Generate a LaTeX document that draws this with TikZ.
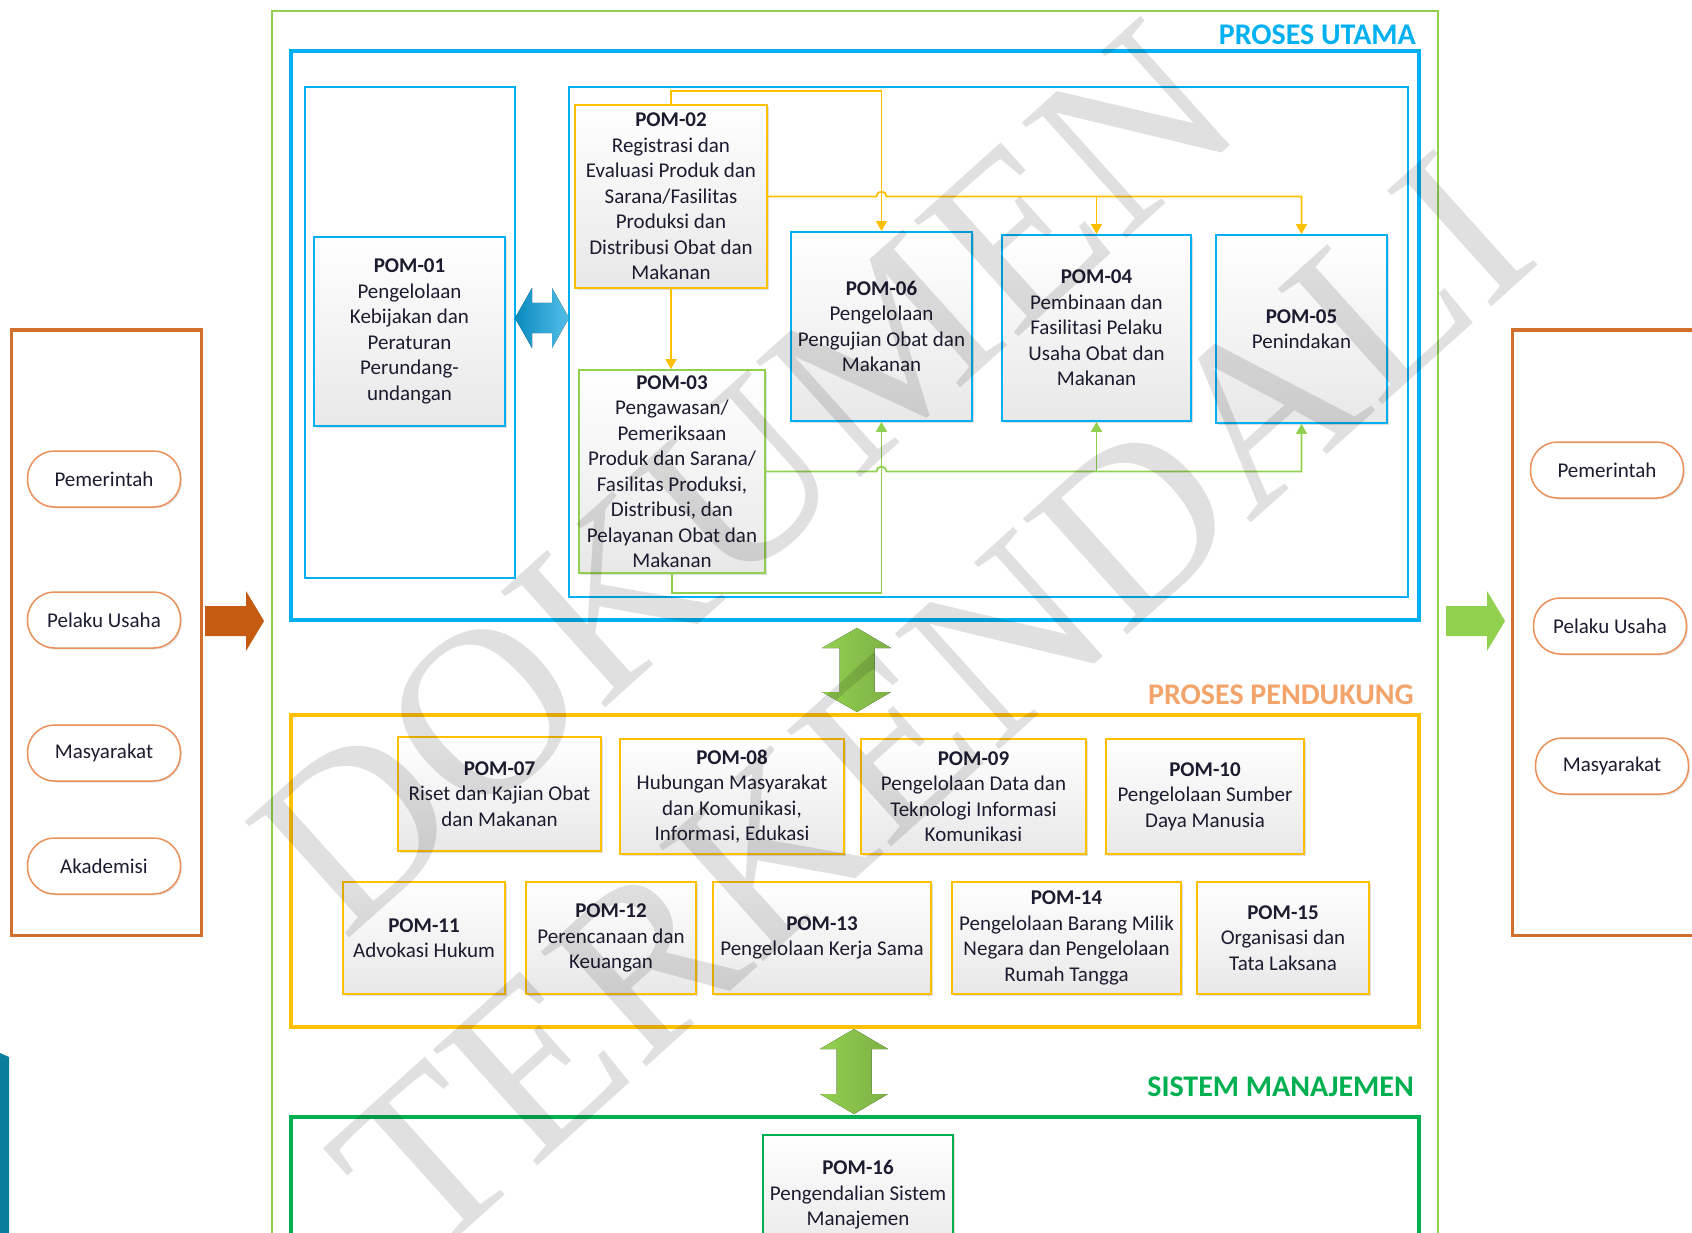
\documentclass[tikz,border=0pt]{standalone}
\usepackage{fontspec}
\setmainfont{Carlito}
\newfontfamily\wmfont{Liberation Serif}
\usetikzlibrary{arrows.meta,shadows}

\definecolor{pomblue}{HTML}{00B0F0}
\definecolor{pomgold}{HTML}{FFC000}
\definecolor{pomlime}{HTML}{92D050}
\definecolor{pomgreen}{HTML}{00B050}
\definecolor{pomorange}{HTML}{C55A11}
\definecolor{pomframe}{HTML}{D0702C}
\definecolor{pompeach}{HTML}{EA9058}
\definecolor{pomlabel}{HTML}{F2A46A}
\definecolor{pomtext}{HTML}{1C1C30}
\definecolor{pomteal}{HTML}{0A7D9A}
\definecolor{pomarrow}{HTML}{0BA3DF}

\begin{document}
\begin{tikzpicture}[x=1pt,y=-1pt]
            \tikzstyle{every node}+=[inner sep=0pt, text=pomtext]
            \tikzstyle{pom}=[draw, line width=1.8pt, top color=white, bottom color=black!9, align=center,
                font=\fontsize{21}{25.5}\selectfont,
                drop shadow={shadow xshift=2pt, shadow yshift=-2pt, opacity=0.25}]
            \tikzstyle{actor}=[draw=pompeach, line width=1.5pt, fill=white, rounded corners=27pt,
                minimum width=153pt, minimum height=56pt, font=\fontsize{21}{21}\selectfont,
                drop shadow={shadow xshift=1.5pt, shadow yshift=-1.5pt, opacity=0.2}]
            \tikzstyle{section}=[anchor=east, font=\bfseries\fontsize{30}{30}\selectfont]
            \tikzstyle{yline}=[draw=pomgold, line width=1.8pt, -{Triangle[width=11pt,length=10pt]}]
            \tikzstyle{gline}=[draw=pomlime, line width=1.8pt, -{Triangle[width=11pt,length=10pt]}]
            \tikzstyle{wmark}=[rotate=42, font=\wmfont\fontsize{238}{238}\selectfont, text=black, text opacity=0.12]
            \useasboundingbox (0,0) rectangle (1692,1233);
            % frames
            \draw [pomlime, line width=2.5pt] (272,11) rectangle (1438,1260);
            \draw [pomblue, line width=3.5pt] (291,51) rectangle (1419,620);
            \draw [pomgold, line width=3.5pt] (291,715) rectangle (1419,1027);
            \draw [pomgreen, line width=3.5pt] (291,1117) rectangle (1419,1260);
            \draw [pomblue, line width=1.8pt] (305,87) rectangle (515,578);
            \draw [pomblue, line width=1.8pt] (569,87) rectangle (1408,597);
            \draw [pomframe, line width=3pt] (11,330) rectangle (201,935);
            \draw [pomframe, line width=3pt] (1512,330) rectangle (1710,935);
            \fill [pomteal] (0,1053) -- (9,1057) -- (9,1240) -- (0,1240) -- cycle;
            % section titles
            \node [section, text=pomblue] (lblutama) at (1416,35) {PROSES UTAMA};
            \node [section, text=pomlabel] (lblpendukung) at (1414,695) {PROSES PENDUKUNG};
            \node [section, text=pomgreen] (lblsistem) at (1414,1087) {SISTEM MANAJEMEN};
            % proses utama
            \node [pom, draw=pomblue, minimum width=191pt, minimum height=189pt] (p01) at (409.5,331.5)
                {\textbf{POM-01}\\Pengelolaan\\Kebijakan dan\\Peraturan\\Perundang-\\undangan};
            \node [pom, draw=pomgold, minimum width=192pt, minimum height=183pt] (p02) at (671,196.5)
                {\textbf{POM-02}\\Registrasi dan\\Evaluasi Produk dan\\Sarana/Fasilitas\\Produksi dan\\Distribusi Obat dan\\Makanan};
            \node [pom, draw=pomlime, minimum width=186pt, minimum height=203pt] (p03) at (672,471.5)
                {\textbf{POM-03}\\Pengawasan/\\Pemeriksaan\\Produk dan Sarana/\\Fasilitas Produksi,\\Distribusi, dan\\Pelayanan Obat dan\\Makanan};
            \node [pom, draw=pomblue, minimum width=181pt, minimum height=189pt] (p06) at (881.5,326.5)
                {\textbf{POM-06}\\Pengelolaan\\Pengujian Obat dan\\Makanan};
            \node [pom, draw=pomblue, minimum width=189pt, minimum height=186pt] (p04) at (1096.5,328)
                {\textbf{POM-04}\\Pembinaan dan\\Fasilitasi Pelaku\\Usaha Obat dan\\Makanan};
            \node [pom, draw=pomblue, minimum width=171pt, minimum height=188pt] (p05) at (1301.5,329)
                {\textbf{POM-05}\\Penindakan};
            % flows
            \draw [yline] (p02.north) -- ++(0,-13) -| (p06.north);
            \draw [yline] (p02.south) -- (p02.south |- p03.north);
            \coordinate (yhop) at (p06.north |- p02.east);
            \draw [yline] (p02.east) -- ([xshift=-5pt]yhop) arc [start angle=180, end angle=360, radius=5] -| (p05.north);
            \draw [yline] (p04.north |- p02.east) -- (p04.north);
            \draw [gline] (p03.south) -- ++(0,19) -| (p06.south);
            \coordinate (ghop) at (p06.south |- p03.east);
            \draw [gline] (p03.east) -- ([xshift=-5pt]ghop) arc [start angle=180, end angle=360, radius=5] -| (p05.south);
            \draw [gline] (p04.south |- p03.east) -- (p04.south);
            % proses pendukung
            \node [pom, draw=pomgold, minimum width=203pt, minimum height=114pt] (p07) at (499.5,794)
                {\textbf{POM-07}\\Riset dan Kajian Obat\\dan Makanan};
            \node [pom, draw=pomgold, minimum width=224pt, minimum height=115pt] (p08) at (732,796.5)
                {\textbf{POM-08}\\Hubungan Masyarakat\\dan Komunikasi,\\Informasi, Edukasi};
            \node [pom, draw=pomgold, minimum width=225pt, minimum height=115pt] (p09) at (973.5,796.5)
                {\textbf{POM-09}\\Pengelolaan Data dan\\Teknologi Informasi\\Komunikasi};
            \node [pom, draw=pomgold, minimum width=198pt, minimum height=115pt] (p10) at (1205,796.5)
                {\textbf{POM-10}\\Pengelolaan Sumber\\Daya Manusia};
            \node [pom, draw=pomgold, minimum width=162pt, minimum height=112pt] (p11) at (424,938)
                {\textbf{POM-11}\\Advokasi Hukum};
            \node [pom, draw=pomgold, minimum width=170pt, minimum height=112pt] (p12) at (611,938)
                {\textbf{POM-12}\\Perencanaan dan\\Keuangan};
            \node [pom, draw=pomgold, minimum width=218pt, minimum height=112pt] (p13) at (822,938)
                {\textbf{POM-13}\\Pengelolaan Kerja Sama};
            \node [pom, draw=pomgold, minimum width=229pt, minimum height=112pt] (p14) at (1066.5,938)
                {\textbf{POM-14}\\Pengelolaan Barang Milik\\Negara dan Pengelolaan\\Rumah Tangga};
            \node [pom, draw=pomgold, minimum width=172pt, minimum height=112pt] (p15) at (1283,938)
                {\textbf{POM-15}\\Organisasi dan\\Tata Laksana};
            % sistem manajemen
            \node [pom, draw=pomgreen, minimum width=190pt, minimum height=120pt] (p16) at (858,1195)
                {\textbf{POM-16}\\Pengendalian Sistem\\Manajemen};
            % stakeholders
            \node [actor] (inpem) at (104,479) {Pemerintah};
            \node [actor] (inpel) at (104,620) {Pelaku Usaha};
            \node [actor] (inmas) at (104,753) {Masyarakat};
            \node [actor] (inaka) at (104,866) {Akademisi};
            \node [actor] (outpem) at (1607,470) {Pemerintah};
            \node [actor] (outpel) at (1610,626) {Pelaku Usaha};
            \node [actor] (outmas) at (1612,766) {Masyarakat};
            % block arrows
            \fill [left color=pomarrow!85!black, right color=pomarrow!70!white]
                (515,318) -- (532,288) -- (532,303) -- (552,303) -- (552,288) -- (569,318)
                -- (552,348) -- (552,333) -- (532,333) -- (532,348) -- cycle;
            \fill [left color=pomlime, right color=pomlime!85!black]
                (857,628) -- (891,648) -- (874.5,648) -- (874.5,692) -- (891,692) -- (857,712)
                -- (822,692) -- (839.5,692) -- (839.5,648) -- (822,648) -- cycle;
            \fill [left color=pomlime, right color=pomlime!85!black]
                (854,1029) -- (888,1049) -- (871.5,1049) -- (871.5,1094) -- (888,1094) -- (854,1114)
                -- (820,1094) -- (836.5,1094) -- (836.5,1049) -- (820,1049) -- cycle;
            \fill [pomorange] (205,606) -- (246,606) -- (246,591) -- (264,621) -- (246,651) -- (246,636) -- (205,636) -- cycle;
            \fill [pomlime] (1446,606) -- (1487,606) -- (1487,591) -- (1505,621) -- (1487,651) -- (1487,636) -- (1446,636) -- cycle;
            % watermark
            \node [wmark] (wmtop) at (745,478) {DOKUMEN};
            \node [wmark] (wmbot) at (932,705) {TERKENDALI};
        \end{tikzpicture}
\end{document}
